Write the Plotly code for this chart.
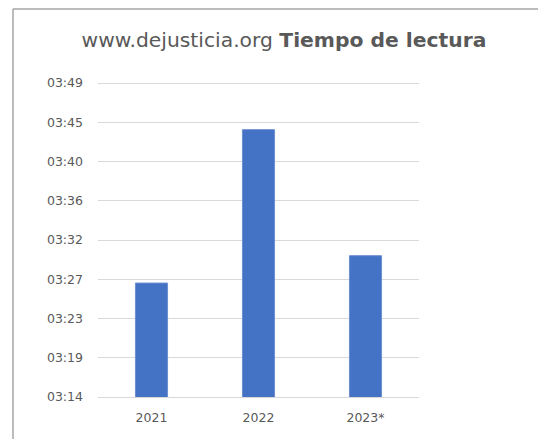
import plotly.graph_objects as go

years = ["2021", "2022", "2023*"]
seconds = [206.7, 223.8, 209.75]  # reading time in seconds (mm:ss)
tick_labels = ["03:14", "03:19", "03:23", "03:27", "03:32", "03:36", "03:40", "03:45", "03:49"]
axis_min, axis_max = 194, 229

step = (axis_max - axis_min) / (len(tick_labels) - 1)
tick_vals = [axis_min + i * step for i in range(len(tick_labels))]

# page has an 8px body margin; figure coordinates = screen - 8
OFF = 8
PAD = 2  # extra px above top gridline so it is drawn
W, H = 546 - OFF, 439 - OFF
L, R, T, B = 98 - OFF, 127, 83 - OFF - PAD, 42
pw, ph = W - L - R, H - T - B
sec_per_px = (axis_max - axis_min) / (ph - PAD)

def px(x):
    return (x - OFF - L) / pw

def py(y):
    return (H - B - (y - OFF)) / ph

fig = go.Figure(go.Bar(
    x=years, y=seconds,
    marker=dict(color="#4472C4", line=dict(color="#6E8FD0", width=1)),
    width=0.3,
))

fig.update_layout(
    width=W, height=H,
    margin=dict(l=L, r=R, t=T, b=B),
    paper_bgcolor="white", plot_bgcolor="white",
    showlegend=False,
    font=dict(family="DejaVu Sans", color="#595959"),
    title=dict(
        text="www.dejusticia.org <b>Tiempo de lectura</b>",
        x=(284 - OFF) / W, xanchor="center", y=1 - (40 - OFF) / H, yanchor="middle",
        font=dict(size=20.3, color="#595959", family="DejaVu Sans"),
    ),
    xaxis=dict(
        showgrid=False, showline=True, linecolor="#D9D9D9", linewidth=1,
        ticks="", tickfont=dict(size=12.5, color="#595959"),
        ticklabelstandoff=9,
    ),
    yaxis=dict(
        range=[axis_min, axis_max + PAD * sec_per_px], tickvals=tick_vals, ticktext=tick_labels,
        showgrid=True, gridcolor="#D9D9D9", gridwidth=1,
        zeroline=False, showline=False,
        tickfont=dict(size=12.5, color="#595959"),
        ticks="", ticklabelstandoff=14,
    ),
    shapes=[
        dict(type="line", xref="paper", yref="paper",
             x0=px(13), x1=px(13), y0=py(439 + 5), y1=py(9),
             line=dict(color="#A6A6A6", width=1.5)),
        dict(type="line", xref="paper", yref="paper",
             x0=px(13), x1=px(546 + 5), y0=py(9), y1=py(9),
             line=dict(color="#A6A6A6", width=1.5)),
    ],
)

fig.write_html("out.html")
